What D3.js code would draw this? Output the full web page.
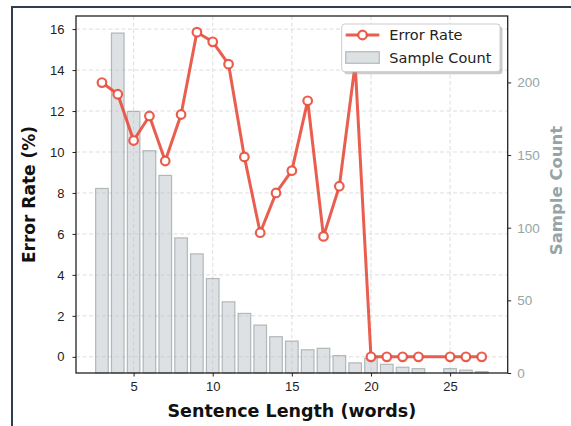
<!DOCTYPE html>
<html>
<head>
<meta charset="utf-8">
<script src="https://cdn.jsdelivr.net/npm/d3@7"></script>
<style>
  body { margin: 0; background: #fff; }
  svg { display: block; font-family: "DejaVu Sans", sans-serif; }
</style>
</head>
<body>
<div id="chart"></div>
<script>
// Sentence lengths (no samples at 24 words)
const lengths = [3, 4, 5, 6, 7, 8, 9, 10, 11, 12, 13, 14, 15, 16, 17, 18, 19, 20, 21, 22, 23, 25, 26, 27];
// Sample count per length
const counts = [127, 234, 180, 153, 136, 93, 82, 65, 49, 41, 33, 25, 22, 16, 17, 12, 7, 10, 6, 4, 3, 3, 2, 1];
// Error rate (%) per length
const errorRates = [13.39, 12.82, 10.56, 11.76, 9.56, 11.83, 15.85, 15.38, 14.29, 9.76, 6.06, 8.00, 9.09, 12.50, 5.88, 8.33, 14.29, 0, 0, 0, 0, 0, 0, 0];

const xTicks = [5, 10, 15, 20, 25];
const leftTicks = [0, 2, 4, 6, 8, 10, 12, 14, 16];
const rightTicks = [0, 50, 100, 150, 200];

const W = 571, H = 426;
const margin = { top: 16, right: 63.3, bottom: 53, left: 76 };
const innerW = W - margin.left - margin.right;
const innerH = H - margin.top - margin.bottom;

const lineColor = "#e74c3c";
const countColor = "#95a5a6";

const svg = d3.select("#chart").append("svg")
  .attr("width", W)
  .attr("height", H);

// figure border
svg.append("rect")
  .attr("x", 12).attr("y", 7)
  .attr("width", 600).attr("height", 500)
  .attr("fill", "none")
  .attr("stroke", "#2c3e50")
  .attr("stroke-width", 2);

const g = svg.append("g")
  .attr("transform", `translate(${margin.left},${margin.top})`);

// scales (matplotlib-style 5% margins)
const x = d3.scaleLinear().domain([1.36, 28.64]).range([0, innerW]);
const yErr = d3.scaleLinear().domain([-0.79, 16.64]).range([innerH, 0]);
const yCnt = d3.scaleLinear().domain([0, 245.7]).range([innerH, 0]);

// grid
g.append("g")
  .selectAll("line")
  .data(leftTicks)
  .enter().append("line")
  .attr("x1", 0).attr("x2", innerW)
  .attr("y1", d => yErr(d)).attr("y2", d => yErr(d))
  .attr("stroke", "#d9d9d9")
  .attr("stroke-width", 0.9)
  .attr("stroke-dasharray", "4,2.5");

g.append("g")
  .selectAll("line")
  .data(xTicks)
  .enter().append("line")
  .attr("x1", d => x(d)).attr("x2", d => x(d))
  .attr("y1", 0).attr("y2", innerH)
  .attr("stroke", "#d9d9d9")
  .attr("stroke-width", 0.9)
  .attr("stroke-dasharray", "4,2.5");

// bars
const barW = x(0.8) - x(0);
g.selectAll(".bar")
  .data(lengths)
  .enter().append("rect")
  .attr("class", "bar")
  .attr("x", (d, i) => x(d) - barW / 2)
  .attr("y", (d, i) => yCnt(counts[i]))
  .attr("width", barW)
  .attr("height", (d, i) => innerH - yCnt(counts[i]))
  .attr("fill", "#bdc3c7")
  .attr("fill-opacity", 0.5)
  .attr("stroke", "#7f8c8d")
  .attr("stroke-opacity", 0.55)
  .attr("stroke-width", 1.2);

// error rate line
const line = d3.line()
  .x((d, i) => x(lengths[i]))
  .y(d => yErr(d));

g.append("path")
  .datum(errorRates)
  .attr("d", line)
  .attr("fill", "none")
  .attr("stroke", lineColor)
  .attr("stroke-opacity", 0.9)
  .attr("stroke-width", 3)
  .attr("stroke-linejoin", "round");

g.selectAll(".pt")
  .data(errorRates)
  .enter().append("circle")
  .attr("class", "pt")
  .attr("cx", (d, i) => x(lengths[i]))
  .attr("cy", d => yErr(d))
  .attr("r", 4.3)
  .attr("fill", "#fff")
  .attr("stroke", lineColor)
  .attr("stroke-opacity", 0.9)
  .attr("stroke-width", 2.2);

// axes
const axisBottom = g.append("g")
  .attr("transform", `translate(0,${innerH})`)
  .call(d3.axisBottom(x).tickValues(xTicks).tickSize(3.5).tickPadding(5).tickFormat(d3.format("d")));
axisBottom.selectAll("text").style("font-size", "13px").attr("fill", "#222");

const axisLeft = g.append("g")
  .call(d3.axisLeft(yErr).tickValues(leftTicks).tickSize(3.5).tickPadding(8).tickFormat(d3.format("d")));
axisLeft.selectAll("text").style("font-size", "13px").attr("fill", "#222");

const axisRight = g.append("g")
  .attr("transform", `translate(${innerW},0)`)
  .call(d3.axisRight(yCnt).tickValues(rightTicks).tickSize(3.5).tickPadding(6).tickFormat(d3.format("d")));
axisRight.selectAll("text").style("font-size", "13.5px").attr("fill", countColor);

[axisBottom, axisLeft, axisRight].forEach(a => {
  a.select(".domain").remove();
  a.selectAll(".tick line").attr("stroke", "#222").attr("stroke-width", 1);
});

// frame
g.append("rect")
  .attr("width", innerW).attr("height", innerH)
  .attr("fill", "none")
  .attr("stroke", "#222")
  .attr("stroke-width", 1.3);

// axis labels
svg.append("text")
  .attr("x", margin.left + innerW / 2)
  .attr("y", 416.5)
  .attr("text-anchor", "middle")
  .style("font-size", "17.5px")
  .style("font-weight", "bold")
  .attr("fill", "#111")
  .text("Sentence Length (words)");

svg.append("text")
  .attr("transform", `translate(35,${margin.top + innerH / 2}) rotate(-90)`)
  .attr("text-anchor", "middle")
  .style("font-size", "17px")
  .style("font-weight", "bold")
  .attr("fill", "#111")
  .text("Error Rate (%)");

svg.append("text")
  .attr("transform", `translate(562,${margin.top + innerH / 2 - 4}) rotate(-90)`)
  .attr("text-anchor", "middle")
  .style("font-size", "16.5px")
  .style("font-weight", "bold")
  .attr("fill", countColor)
  .text("Sample Count");

// legend
const legend = svg.append("g").attr("transform", "translate(341.7,24)");
legend.append("rect")
  .attr("x", 2.5).attr("y", 2.5)
  .attr("width", 158.3).attr("height", 47.7)
  .attr("rx", 3)
  .attr("fill", "#999").attr("fill-opacity", 0.5);
legend.append("rect")
  .attr("width", 158.3).attr("height", 47.7)
  .attr("rx", 3)
  .attr("fill", "#fff")
  .attr("stroke", "#cccccc")
  .attr("stroke-width", 1);

legend.append("line")
  .attr("x1", 4).attr("x2", 37.6)
  .attr("y1", 11).attr("y2", 11)
  .attr("stroke", lineColor).attr("stroke-opacity", 0.9)
  .attr("stroke-width", 3);
legend.append("circle")
  .attr("cx", 20.8).attr("cy", 11).attr("r", 4.3)
  .attr("fill", "#fff")
  .attr("stroke", lineColor).attr("stroke-opacity", 0.9)
  .attr("stroke-width", 2.2);
legend.append("text")
  .attr("x", 47.6).attr("y", 16)
  .style("font-size", "14.5px")
  .attr("fill", "#222")
  .text("Error Rate");

legend.append("rect")
  .attr("x", 4).attr("y", 27.7)
  .attr("width", 33.6).attr("height", 11.6)
  .attr("fill", "#bdc3c7").attr("fill-opacity", 0.5)
  .attr("stroke", "#7f8c8d").attr("stroke-opacity", 0.55)
  .attr("stroke-width", 1.2);
legend.append("text")
  .attr("x", 47.6).attr("y", 38.5)
  .style("font-size", "14.5px")
  .attr("fill", "#222")
  .text("Sample Count");
</script>
</body>
</html>
